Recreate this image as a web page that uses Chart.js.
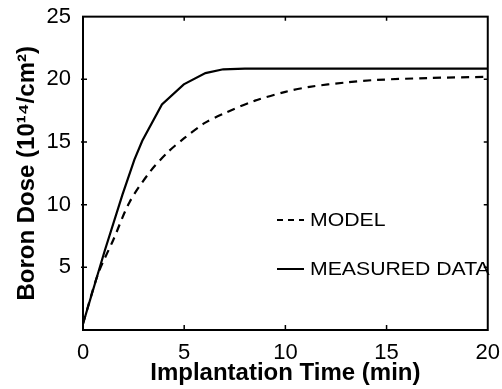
<!DOCTYPE html>
<html>
<head>
<meta charset="utf-8">
<script src="https://cdn.jsdelivr.net/npm/chart.js@4/dist/chart.umd.min.js"></script>
<style>
  html, body { margin: 0; padding: 0; background: #fff; }
  #wrap { width: 502px; height: 389px; }
</style>
</head>
<body>
<div id="wrap"><canvas id="chart"></canvas></div>
<script>
// implantation time (min) and boron dose (1e14/cm2)
const modelTime = [0, 0.75, 1.5, 2.3, 3.3, 4.2, 5, 6, 7, 8.5, 10, 11.2, 13, 14.5, 17, 20];
const modelDose = [0.5, 4.5, 7.2, 10.2, 12.6, 14.2, 15.3, 16.5, 17.3, 18.3, 19.0, 19.4, 19.75, 19.95, 20.1, 20.2];

const measTime = [0, 1.07, 1.95, 2.54, 2.93, 3.9, 4.98, 6.05, 6.93, 8, 20];
const measDose = [0.5, 6.3, 10.8, 13.6, 15.1, 18.0, 19.6, 20.5, 20.8, 20.85, 20.85];

const xTicks = [0, 5, 10, 15, 20];
const yTicks = [5, 10, 15, 20, 25];
const legendLabels = ['MODEL', 'MEASURED DATA'];

const FONT = '"Liberation Sans", Arial, Helvetica, sans-serif';
const toPts = (xs, ys) => xs.map((x, i) => ({x: x, y: ys[i]}));

const frame = {
  id: 'frame',
  afterDraw(chart) {
    const ctx = chart.ctx, a = chart.chartArea;
    const xs = chart.scales.x, ys = chart.scales.y;
    ctx.save();
    ctx.strokeStyle = '#000';
    ctx.lineWidth = 2;
    ctx.strokeRect(a.left, a.top, a.right - a.left, a.bottom - a.top);
    // small inward ticks on all four sides
    ctx.lineWidth = 1.5;
    xTicks.slice(1, -1).forEach(v => {
      const px = xs.getPixelForValue(v);
      ctx.beginPath();
      ctx.moveTo(px, a.bottom); ctx.lineTo(px, a.bottom - 5);
      ctx.moveTo(px, a.top); ctx.lineTo(px, a.top + 4);
      ctx.stroke();
    });
    yTicks.slice(0, -1).forEach(v => {
      const py = ys.getPixelForValue(v);
      ctx.beginPath();
      ctx.moveTo(a.left - 2, py); ctx.lineTo(a.left + 4, py);
      ctx.moveTo(a.right, py); ctx.lineTo(a.right - 4, py);
      ctx.stroke();
    });
    // legend
    ctx.font = '18px ' + FONT;
    ctx.fillStyle = '#000';
    ctx.textBaseline = 'middle';
    const rows = [[277, 220, [6, 5]], [277, 269, []]];
    rows.forEach((r, i) => {
      ctx.beginPath();
      ctx.setLineDash(r[2]);
      ctx.lineWidth = 2;
      ctx.moveTo(r[0], r[1]);
      ctx.lineTo(r[0] + 27, r[1]);
      ctx.stroke();
      ctx.setLineDash([]);
      ctx.save();
      ctx.translate(r[0] + 33, r[1]);
      ctx.scale(1.18, 1);
      ctx.fillText(legendLabels[i], 0, 1);
      ctx.restore();
    });
    ctx.restore();
  }
};

new Chart(document.getElementById('chart'), {
  type: 'line',
  data: {
    datasets: [{
      label: legendLabels[0],
      data: toPts(modelTime, modelDose),
      borderColor: '#000',
      borderWidth: 2.2,
      borderDash: [8, 6],
      pointRadius: 0,
      tension: 0.3,
      fill: false
    }, {
      label: legendLabels[1],
      data: toPts(measTime, measDose),
      borderColor: '#000',
      borderWidth: 2.2,
      pointRadius: 0,
      tension: 0,
      fill: false
    }]
  },
  options: {
    responsive: true,
    maintainAspectRatio: false,
    animation: false,
    layout: { padding: 0 },
    plugins: { legend: { display: false }, tooltip: { enabled: false } },
    scales: {
      x: {
        type: 'linear',
        min: 0, max: 20,
        afterBuildTicks(s) { s.ticks = xTicks.map(v => ({value: v})); },
        ticks: { color: '#000', font: { size: 22, family: FONT }, padding: 2, maxRotation: 0 },
        grid: { display: false },
        border: { display: false },
        title: { display: true, text: 'Implantation Time (min)', color: '#000', font: { size: 24, weight: 'bold', family: FONT }, padding: { top: 0, bottom: 1 } },
        afterFit(s) { s.height = 59; }
      },
      y: {
        min: 0, max: 25,
        afterBuildTicks(s) { s.ticks = yTicks.map(v => ({value: v})); },
        ticks: { color: '#000', padding: 4, font: { size: 22, family: FONT, lineHeight: 1.15 } },
        grid: { display: false },
        border: { display: false },
        title: { display: true, text: 'Boron Dose (10¹⁴/cm²)', color: '#000', font: { size: 24, weight: 'bold', family: FONT }, padding: { top: 13, bottom: 0 } },
        afterFit(s) { s.width = 83; }
      }
    }
  },
  plugins: [frame]
});
</script>
</body>
</html>
